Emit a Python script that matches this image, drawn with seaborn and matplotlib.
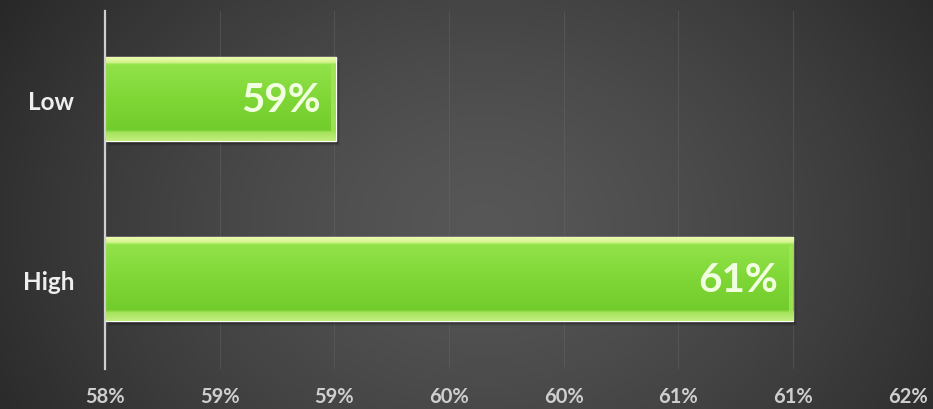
import numpy as np
import pandas as pd
import matplotlib
matplotlib.use("Agg")
import matplotlib.pyplot as plt
import matplotlib.transforms as mtransforms
from matplotlib.colors import LinearSegmentedColormap
from matplotlib.patches import Rectangle
import seaborn as sns

# Data
categories = ["Low", "High"]
values = [59.15, 61.43]          # percent
x_min, x_max = 58.0, 62.0
n_ticks = 8

sns.set_theme(style="dark")
plt.rcParams["font.family"] = ["Lato", "DejaVu Sans"]

df = pd.DataFrame({"level": categories, "share": values})

fig = plt.figure(figsize=(9.33, 4.10), dpi=100)

# Dark radial backdrop
bg = fig.add_axes([0, 0, 1, 1], zorder=-10)
gx, gy = np.meshgrid(np.linspace(0, 1, 400), np.linspace(0, 1, 200))
r = np.sqrt(((gx - 0.52) / 0.62) ** 2 + ((gy - 0.45) / 1.1) ** 2)
shade = np.clip(0.34 - 0.19 * r ** 1.4, 0.14, 0.36)
bg.imshow(np.dstack([shade] * 3), aspect="auto", extent=[0, 1, 0, 1], origin="lower")
bg.set_axis_off()

ax = fig.add_axes([0.1125, 0.0976, 0.973 - 0.1125, 0.9707 - 0.0976])
ax.patch.set_alpha(0)

sns.barplot(data=df, x="share", y="level", orient="h", color="#7cd534",
            width=0.47, ax=ax, zorder=3, saturation=1)

ax.set_xlim(x_min, x_max)
ax.set_ylim(1.5, -0.49)

ticks = np.linspace(x_min, x_max, n_ticks)
ax.set_xticks(ticks)
ax.set_xticklabels([f"{t:.0f}%" for t in ticks], color="#cfcfcf",
                   fontsize=14.5, fontweight="bold")
ax.tick_params(axis="x", length=0, pad=12)
ax.tick_params(axis="y", length=0, pad=22)
for lbl in ax.get_yticklabels():
    lbl.set_color("#eeeeee")
    lbl.set_fontsize(17.5)
    lbl.set_fontweight("bold")
ax.set_xlabel("")
ax.set_ylabel("")

ax.grid(axis="x", color="#6a6a6a", linewidth=0.8, alpha=0.4, zorder=0)
ax.grid(axis="y", visible=False)
for side in ["top", "right", "bottom"]:
    ax.spines[side].set_visible(False)
ax.spines["left"].set_color("#cfcfcf")
ax.spines["left"].set_linewidth(1.6)
ax.spines["left"].set_zorder(5)

green = LinearSegmentedColormap.from_list(
    "bevel",
    [(0.0, "#eefcb8"), (0.07, "#d8f590"), (0.10, "#92e24a"),
     (0.50, "#7fd736"), (0.87, "#72cc2c"), (0.90, "#a6e45c"),
     (1.0, "#c2ee80")])

for bar, val in zip(ax.patches, values):
    # bars run from the left edge of the axis, not from zero
    bar.set_x(x_min)
    bar.set_width(val - x_min)
    x0, y0 = bar.get_x(), bar.get_y()
    w, h = bar.get_width(), bar.get_height()
    # drop shadow
    for k, a in enumerate([0.22, 0.15, 0.10, 0.06]):
        sh = Rectangle((x0, y0), w, h, transform=mtransforms.offset_copy(
            ax.transData, fig=fig, x=1 + k, y=-(2 + k), units="dots"),
            facecolor="black", alpha=a, edgecolor="none", zorder=2)
        ax.add_patch(sh)
    # bevelled fill
    grad = np.linspace(0, 1, 256).reshape(-1, 1)
    im = ax.imshow(grad, cmap=green, aspect="auto",
                   extent=[x0, x0 + w, y0 + h, y0], zorder=4, interpolation="bilinear")
    im.set_clip_path(bar)
    # right edge bevel
    edge = Rectangle((x0 + w - 0.022, y0 + h * 0.09), 0.022, h * 0.81,
                     facecolor="#a2e558", edgecolor="none", alpha=0.85, zorder=4.5)
    ax.add_patch(edge)
    ax.annotate(f"{val:.0f}%", xy=(x0 + w, y0 + h / 2), xytext=(-11, 0),
                textcoords="offset points", ha="right", va="center",
                color="#f1ffe0", fontsize=29, fontweight="bold", zorder=6)

ax.set_xlim(x_min, x_max)
ax.set_ylim(1.5, -0.49)

fig.savefig("out.png", dpi=100)
